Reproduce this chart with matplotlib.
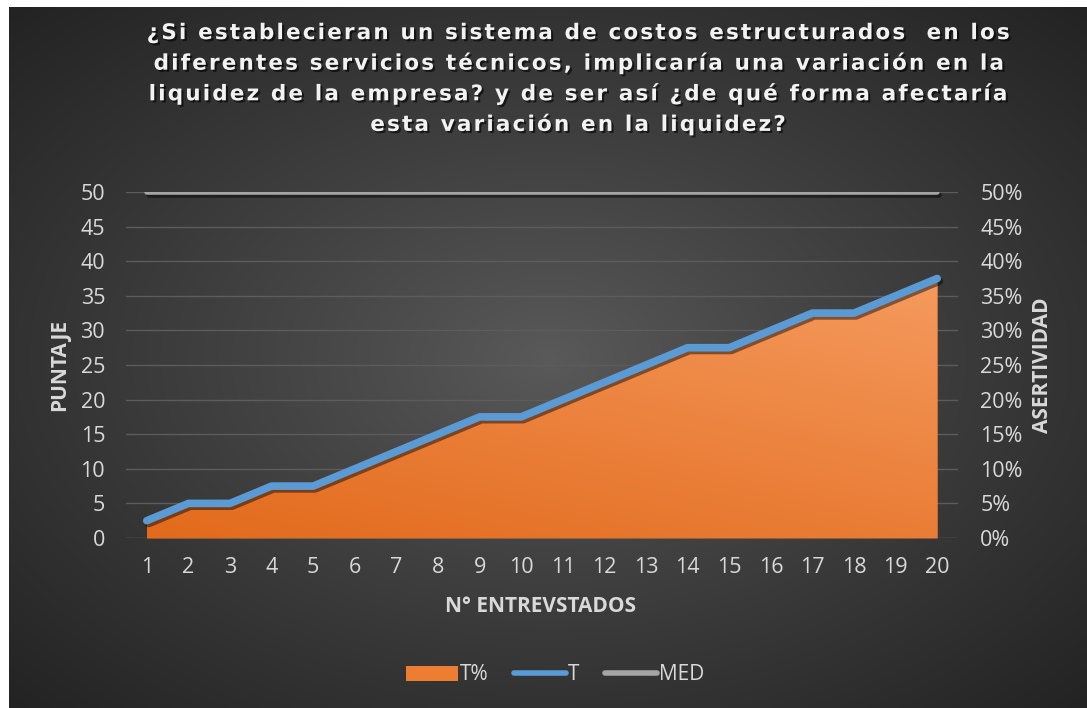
import numpy as np
import matplotlib
matplotlib.use("Agg")
import matplotlib.pyplot as plt
import matplotlib.patheffects as pe
from matplotlib.patches import Patch
from matplotlib.lines import Line2D

# ---- data ----
entrevistados = list(range(1, 21))
T = [2.5, 5, 5, 7.5, 7.5, 10, 12.5, 15, 17.5, 17.5, 20, 22.5, 25, 27.5, 27.5, 30, 32.5, 32.5, 35, 37.5]
T_pct = [0.025, 0.05, 0.05, 0.075, 0.075, 0.10, 0.125, 0.15, 0.175, 0.175, 0.20, 0.225, 0.25, 0.275, 0.275,
         0.30, 0.325, 0.325, 0.35, 0.375]
MED = [50] * 20
left_ticks = [0, 5, 10, 15, 20, 25, 30, 35, 40, 45, 50]
right_ticks = [0, 0.05, 0.10, 0.15, 0.20, 0.25, 0.30, 0.35, 0.40, 0.45, 0.50]
right_labels = ["0%", "5%", "10%", "15%", "20%", "25%", "30%", "35%", "40%", "45%", "50%"]
title_lines = ["¿Si establecieran un sistema de costos estructurados  en los",
               "diferentes servicios técnicos, implicaría una variación en la",
               "liquidez de la empresa? y de ser así ¿de qué forma afectaría",
               "esta variación en la liquidez?"]

W, H = 1087, 708
fig = plt.figure(figsize=(W / 100, H / 100), dpi=100)
fig.patch.set_facecolor("white")

# background with radial gradient
bg = fig.add_axes([9 / W, 0, 1 - 9 / W, 1 - 7 / H])
bg.set_axis_off()
yy, xx = np.mgrid[0:300, 0:400]
cx, cy = 200, 150
r = np.sqrt(((xx - cx) / 400) ** 2 + ((yy - cy) / 300) ** 2)
r = np.clip(r / 0.72, 0, 1) ** 0.9
inner = np.array([0x5a, 0x5a, 0x5a]) / 255
outer = np.array([0x22, 0x22, 0x22]) / 255
img = inner[None, None, :] * (1 - r[..., None]) + outer[None, None, :] * r[..., None]
bg.imshow(img, aspect="auto", extent=[0, 1, 0, 1], interpolation="bilinear")

fs = "Open Sans"
txtc = "#d9d9d9"

# main axes
x0, x1 = 126, 958
ytop, ybot = 192, 538
ax = fig.add_axes([x0 / W, 1 - ybot / H, (x1 - x0) / W, (ybot - ytop) / H])
ax.patch.set_alpha(0)
ax2 = ax.twinx()
ax2.patch.set_alpha(0)

ax.set_xlim(0.5, 20.5)
ax.set_ylim(0, 50)
ax2.set_ylim(0, 0.5)

for v in left_ticks[1:]:
    ax.axhline(v, color="#5c5c5c", lw=1, zorder=0)
ax.axhline(0, color="#6a6a6a", lw=1, zorder=0)

# area on secondary axis with gradient fill
poly = ax2.fill_between(entrevistados, T_pct, 0, color="#ed7d31", zorder=1, lw=0)
gy = np.linspace(0, 1, 256)[:, None]
gx = np.linspace(0, 1, 256)[None, :]
tt = np.clip(0.6 * gy + 0.4 * gx, 0, 1)
c_lo = np.array([0xe2, 0x6a, 0x1c]) / 255
c_hi = np.array([0xf5, 0x9a, 0x5e]) / 255
grad = c_lo[None, None, :] * (1 - tt[..., None]) + c_hi[None, None, :] * tt[..., None]
im = ax2.imshow(grad, aspect="auto", origin="lower", extent=[1, 20, 0, max(T_pct)], zorder=1.5,
                interpolation="bilinear")
im.set_clip_path(poly.get_paths()[0], transform=ax2.transData)
ax2.set_xlim(0.5, 20.5)
ax2.set_ylim(0, 0.5)

shadow = [pe.SimpleLineShadow(offset=(1.5, -2), shadow_color="black", alpha=0.45), pe.Normal()]
ax2.plot(entrevistados, [m / 100 for m in MED], color="#a5a5a5", lw=4, solid_capstyle="round",
         path_effects=shadow, zorder=3)
ax2.plot(entrevistados, [t / 100 for t in T], color="#5b9bd5", lw=5.5, solid_capstyle="round",
         solid_joinstyle="round", path_effects=shadow, zorder=4)

tick_fs = 15.5
for a in (ax, ax2):
    for s in a.spines.values():
        s.set_visible(False)
    a.tick_params(length=0, colors=txtc, labelsize=tick_fs)
ax.set_xticks(entrevistados)
ax.set_xticklabels([str(e) for e in entrevistados], fontfamily=fs, fontsize=tick_fs, color=txtc)
ax.tick_params(axis="x", pad=14)
ax.set_yticks(left_ticks)
ax.set_yticklabels([str(v) for v in left_ticks], fontfamily=fs, fontsize=tick_fs, color=txtc)
ax.tick_params(axis="y", pad=15)
ax2.set_yticks(right_ticks)
ax2.set_yticklabels(right_labels, fontfamily=fs, fontsize=tick_fs, color=txtc)
ax2.tick_params(axis="y", pad=16)

fig.text(60 / W, 1 - 365 / H, "PUNTAJE", rotation=90, ha="center", va="center",
         fontfamily=fs, fontweight="bold", fontsize=15, color=txtc)
fig.text(1043 / W, 1 - 365 / H, "ASERTIVIDAD", rotation=90, ha="center", va="center",
         fontfamily=fs, fontweight="bold", fontsize=15, color=txtc)
fig.text(541 / W, 1 - 606 / H, "N° ENTREVSTADOS", ha="center", va="center",
         fontfamily=fs, fontweight="bold", fontsize=15, color=txtc)

# title with letter spacing (hair spaces)
hair = "\u200a"
title = "\n".join(hair.join(line) for line in title_lines)
fig.text(577 / W, 1 - 79 / H, title, ha="center", va="center", fontfamily="DejaVu Sans",
         fontweight="bold", fontsize=15.5, color="#f2f2f2", linespacing=1.52,
         path_effects=[pe.withSimplePatchShadow(offset=(1.5, -1.5), shadow_rgbFace="black", alpha=0.6)])

handles = [Patch(facecolor="#ed7d31", edgecolor="none"),
           Line2D([], [], color="#5b9bd5", lw=4, solid_capstyle="round"),
           Line2D([], [], color="#a5a5a5", lw=4, solid_capstyle="round")]
leg = fig.legend(handles, ["T%", "T", "MED"], loc="center", bbox_to_anchor=(555 / W, 1 - 675 / H),
                 ncol=3, frameon=False, handlelength=2.5, handletextpad=0.1, columnspacing=1.2,
                 prop={"family": fs, "size": 15})
for t in leg.get_texts():
    t.set_color(txtc)

fig.savefig("out.png", dpi=100, facecolor=fig.get_facecolor())
